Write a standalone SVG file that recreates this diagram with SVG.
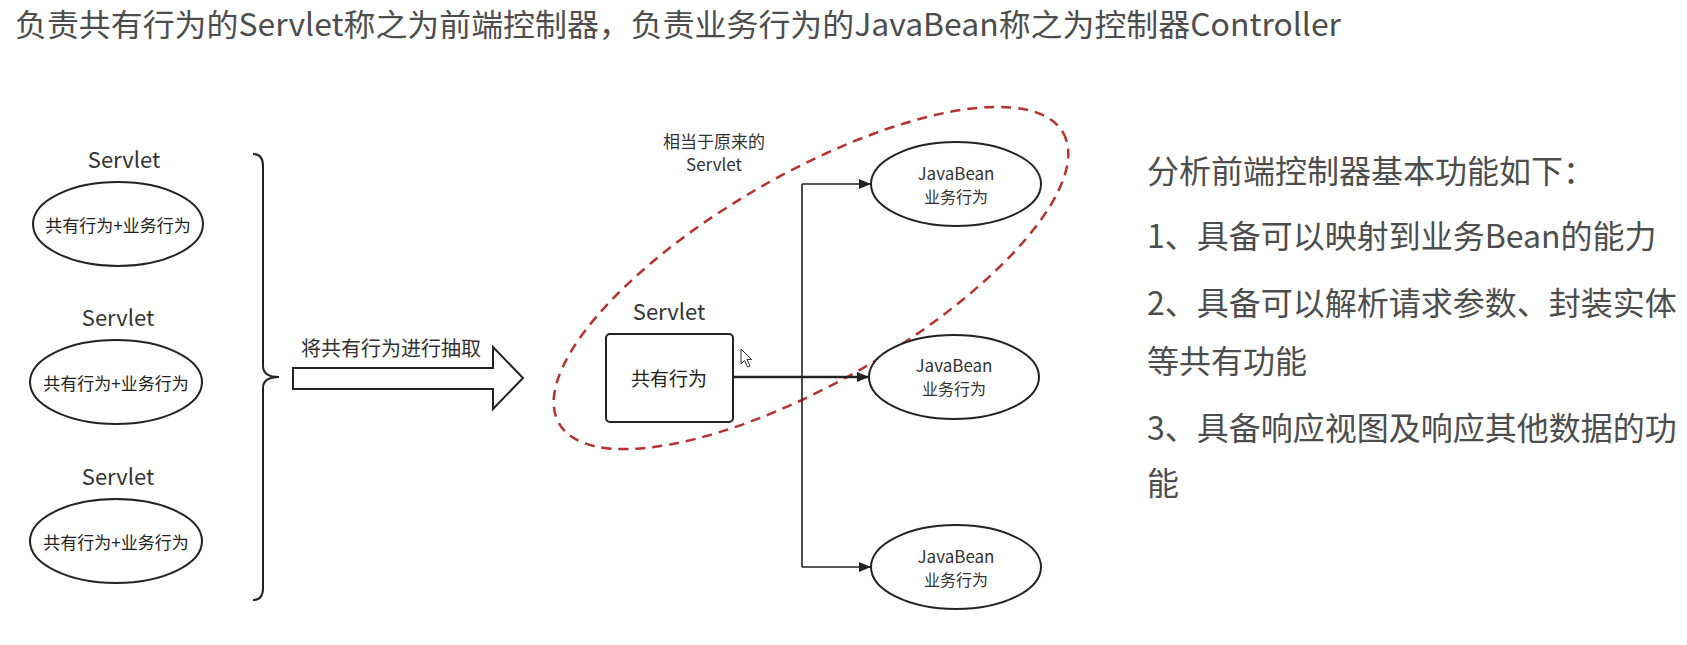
<svg xmlns="http://www.w3.org/2000/svg" width="1687" height="645" viewBox="0 0 1687 645">
<style>
text{font-family:"Noto Sans CJK SC","Noto Sans",sans-serif}
.title{font-size:31px;fill:#4d4d4d}
.side{font-size:32px;fill:#4d4d4d}
.lbl{font-size:22px;fill:#333;text-anchor:middle}
.in{font-size:17px;fill:#222;text-anchor:middle}
.jb{font-size:16px;fill:#333;text-anchor:middle}
.shape{fill:#fff;stroke:#222;stroke-width:2}
.conn{fill:none;stroke:#222;stroke-width:1.6}
</style>
<defs>
<marker id="ah" viewBox="0 0 12 10" refX="12" refY="5" markerWidth="12" markerHeight="10" markerUnits="userSpaceOnUse" orient="auto">
<path d="M0,0 L12,5 L0,10 Z" fill="#222"/>
</marker>
</defs>
<rect width="1687" height="645" fill="#fff"/>
<text class="title" x="15" y="36" textLength="1326" lengthAdjust="spacingAndGlyphs">负责共有行为的Servlet称之为前端控制器，负责业务行为的JavaBean称之为控制器Controller</text>

<g id="servlet1">
<text class="lbl" x="124" y="168">Servlet</text>
<ellipse class="shape" cx="118" cy="224" rx="85" ry="42"/>
<text class="in" x="118" y="232">共有行为+业务行为</text>
</g>
<g id="servlet2">
<text class="lbl" x="118" y="326">Servlet</text>
<ellipse class="shape" cx="116" cy="382" rx="86" ry="42"/>
<text class="in" x="116" y="390">共有行为+业务行为</text>
</g>
<g id="servlet3">
<text class="lbl" x="118" y="485">Servlet</text>
<ellipse class="shape" cx="116" cy="541" rx="86" ry="42"/>
<text class="in" x="116" y="549">共有行为+业务行为</text>
</g>

<g id="brace">
<path d="M253,154 Q263,154 263,166 L263,366 Q263,377 279,377 Q263,377 263,388 L263,588 Q263,600 253,600" fill="none" stroke="#222" stroke-width="2"/>
</g>

<g id="extract-arrow">
<polygon points="293,368 493,368 493,347 523,378 493,409 493,389 293,389" fill="#fff" stroke="#222" stroke-width="2"/>
<text x="391" y="356" style="font-size:20px;fill:#333;text-anchor:middle">将共有行为进行抽取</text>
</g>

<g id="original-servlet-region">
<ellipse cx="811" cy="278" rx="291" ry="104" transform="rotate(-30 811 278)" fill="none" stroke="#b8312f" stroke-width="2.5" stroke-dasharray="10,7"/>
<text x="714" y="148" style="font-size:17px;fill:#333;text-anchor:middle">相当于原来的</text>
<text x="714" y="171" style="font-size:17px;fill:#333;text-anchor:middle">Servlet</text>
</g>

<g id="front-controller">
<text class="lbl" x="669" y="320">Servlet</text>
<rect class="shape" x="606" y="334" width="127" height="88" rx="4"/>
<text x="669" y="386" style="font-size:19px;fill:#222;text-anchor:middle">共有行为</text>
</g>

<g id="connectors">
<line x1="733" y1="377" x2="869" y2="377" stroke="#222" stroke-width="2.6" marker-end="url(#ah)"/>
<path class="conn" d="M802,184 L802,567"/>
<line class="conn" x1="802" y1="184" x2="871" y2="184" marker-end="url(#ah)"/>
<line class="conn" x1="802" y1="567" x2="871" y2="567" marker-end="url(#ah)"/>
</g>

<g id="javabean1">
<ellipse class="shape" cx="956" cy="184" rx="85" ry="42"/>
<text class="jb" x="956" y="180" style="font-size:17px">JavaBean</text>
<text class="jb" x="956" y="203">业务行为</text>
</g>
<g id="javabean2">
<ellipse class="shape" cx="954" cy="377" rx="85" ry="42"/>
<text class="jb" x="954" y="372" style="font-size:17px">JavaBean</text>
<text class="jb" x="954" y="395">业务行为</text>
</g>
<g id="javabean3">
<ellipse class="shape" cx="956" cy="567" rx="85" ry="42"/>
<text class="jb" x="956" y="563" style="font-size:17px">JavaBean</text>
<text class="jb" x="956" y="586">业务行为</text>
</g>

<path d="M741,349 L741,364 L744.5,360.5 L747.5,367 L750,366 L747,359.5 L751.5,359.5 Z" fill="#fff" stroke="#333" stroke-width="1"/>

<g id="notes">
<text class="side" x="1147" y="183">分析前端控制器基本功能如下：</text>
<text class="side" x="1147" y="248">1、具备可以映射到业务Bean的能力</text>
<text class="side" x="1147" y="315">2、具备可以解析请求参数、封装实体</text>
<text class="side" x="1147" y="373">等共有功能</text>
<text class="side" x="1147" y="440">3、具备响应视图及响应其他数据的功</text>
<text class="side" x="1147" y="495">能</text>
</g>
</svg>
